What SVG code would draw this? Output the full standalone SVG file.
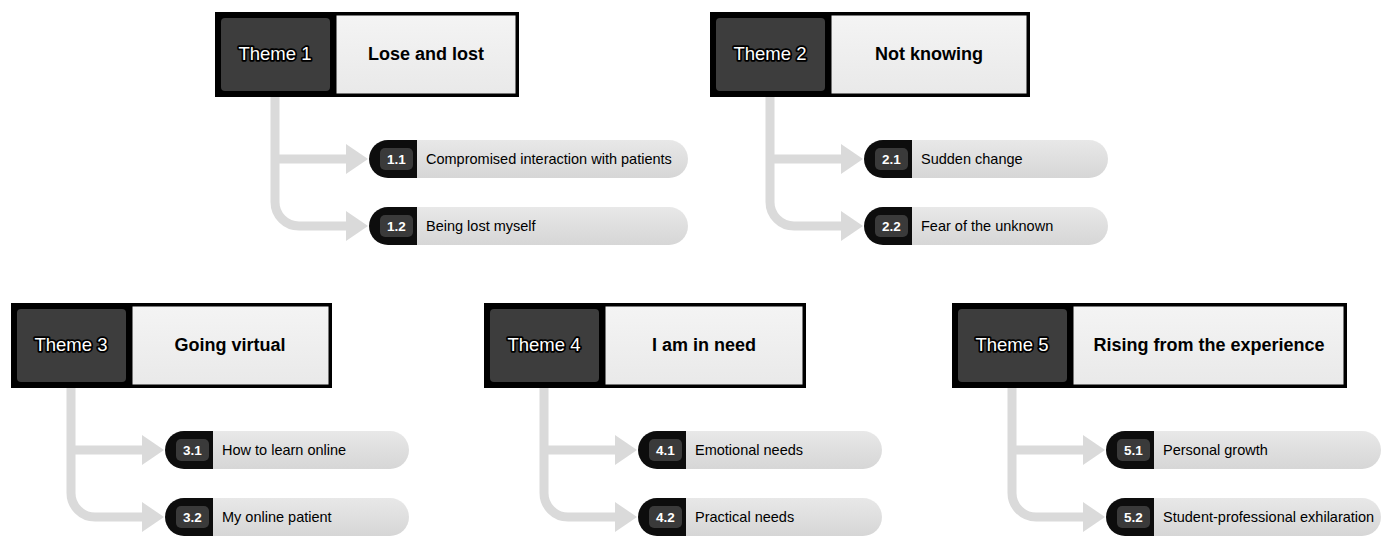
<svg xmlns="http://www.w3.org/2000/svg" width="1382" height="536" viewBox="0 0 1382 536">
<defs>
<linearGradient id="pillg" x1="0" y1="0" x2="0" y2="1">
<stop offset="0" stop-color="#e8e8e8"/>
<stop offset="1" stop-color="#d6d6d6"/>
</linearGradient>
<linearGradient id="titleg" x1="0" y1="0" x2="0" y2="1">
<stop offset="0" stop-color="#f4f4f4"/>
<stop offset="1" stop-color="#e9e9e9"/>
</linearGradient>
</defs>
<style>
.outer{fill:#000;}
.dark{fill:#3d3d3d;}
.white{fill:url(#titleg);stroke:#000;stroke-width:1;}
.tlabel{font-family:"Liberation Sans",Arial,sans-serif;font-size:18.5px;fill:#fff;text-anchor:middle;stroke:#000;stroke-width:3.5;stroke-linejoin:round;paint-order:stroke;}
.title{font-family:"Liberation Sans",Arial,sans-serif;font-size:18px;font-weight:bold;fill:#000;text-anchor:middle;}
.pblack{fill:#0d0d0d;}
.pnum{fill:#3a3a3a;}
.pgrey{fill:url(#pillg);}
.num{font-family:"Liberation Sans",Arial,sans-serif;font-size:13.5px;font-weight:bold;fill:#fff;text-anchor:middle;}
.sub{font-family:"Liberation Sans",Arial,sans-serif;font-size:14.5px;fill:#000;}
.conn{fill:none;stroke:#dadada;stroke-width:9;}
.head{fill:#dadada;}
</style>

<g id="connectors">
<g transform="translate(215,12)">
<path class="conn" d="M60,85 V190 A24,24 0 0 0 84,214 H132 M60,147 H132"/>
<polygon class="head" points="131,132 153,147 131,162"/>
<polygon class="head" points="131,199 153,214 131,229"/>
</g>
<g transform="translate(710,12)">
<path class="conn" d="M60,85 V190 A24,24 0 0 0 84,214 H132 M60,147 H132"/>
<polygon class="head" points="131,132 153,147 131,162"/>
<polygon class="head" points="131,199 153,214 131,229"/>
</g>
<g transform="translate(11,303)">
<path class="conn" d="M60,85 V190 A24,24 0 0 0 84,214 H132 M60,147 H132"/>
<polygon class="head" points="131,132 153,147 131,162"/>
<polygon class="head" points="131,199 153,214 131,229"/>
</g>
<g transform="translate(484,303)">
<path class="conn" d="M60,85 V190 A24,24 0 0 0 84,214 H132 M60,147 H132"/>
<polygon class="head" points="131,132 153,147 131,162"/>
<polygon class="head" points="131,199 153,214 131,229"/>
</g>
<g transform="translate(952,303)">
<path class="conn" d="M60,85 V190 A24,24 0 0 0 84,214 H132 M60,147 H132"/>
<polygon class="head" points="131,132 153,147 131,162"/>
<polygon class="head" points="131,199 153,214 131,229"/>
</g>
</g>

<!-- Theme 1 -->
<g id="theme1" transform="translate(215,12)">
<rect class="outer" x="0" y="0" width="304" height="85"/>
<rect class="dark" x="6" y="6" width="109" height="73" rx="4"/>
<rect class="white" x="121" y="3" width="180" height="79"/>
<text class="tlabel" x="60" y="48">Theme 1</text>
<text class="title" x="211" y="48">Lose and lost</text>
</g>
<g id="sub1-1" transform="translate(215,12)">
<path class="pgrey" d="M202,128 H454 A19,19 0 0 1 454,166 H202 Z"/>
<path class="pblack" d="M202,128 H173 A19,19 0 0 0 173,166 H202 Z"/>
<rect class="pnum" x="165" y="136" width="33" height="22" rx="5"/>
<text class="num" x="181.5" y="152">1.1</text>
<text class="sub" x="211" y="152">Compromised interaction with patients</text>
</g>
<g id="sub1-2" transform="translate(215,12)">
<path class="pgrey" d="M202,195 H454 A19,19 0 0 1 454,233 H202 Z"/>
<path class="pblack" d="M202,195 H173 A19,19 0 0 0 173,233 H202 Z"/>
<rect class="pnum" x="165" y="203" width="33" height="22" rx="5"/>
<text class="num" x="181.5" y="219">1.2</text>
<text class="sub" x="211" y="219">Being lost myself</text>
</g>

<!-- Theme 2 -->
<g id="theme2" transform="translate(710,12)">
<rect class="outer" x="0" y="0" width="320" height="85"/>
<rect class="dark" x="6" y="6" width="109" height="73" rx="4"/>
<rect class="white" x="121" y="3" width="196" height="79"/>
<text class="tlabel" x="60" y="48">Theme 2</text>
<text class="title" x="219" y="48">Not knowing</text>
</g>
<g id="sub2-1" transform="translate(710,12)">
<path class="pgrey" d="M202,128 H379 A19,19 0 0 1 379,166 H202 Z"/>
<path class="pblack" d="M202,128 H173 A19,19 0 0 0 173,166 H202 Z"/>
<rect class="pnum" x="165" y="136" width="33" height="22" rx="5"/>
<text class="num" x="181.5" y="152">2.1</text>
<text class="sub" x="211" y="152">Sudden change</text>
</g>
<g id="sub2-2" transform="translate(710,12)">
<path class="pgrey" d="M202,195 H379 A19,19 0 0 1 379,233 H202 Z"/>
<path class="pblack" d="M202,195 H173 A19,19 0 0 0 173,233 H202 Z"/>
<rect class="pnum" x="165" y="203" width="33" height="22" rx="5"/>
<text class="num" x="181.5" y="219">2.2</text>
<text class="sub" x="211" y="219">Fear of the unknown</text>
</g>

<!-- Theme 3 -->
<g id="theme3" transform="translate(11,303)">
<rect class="outer" x="0" y="0" width="321" height="85"/>
<rect class="dark" x="6" y="6" width="109" height="73" rx="4"/>
<rect class="white" x="121" y="3" width="197" height="79"/>
<text class="tlabel" x="60" y="48">Theme 3</text>
<text class="title" x="219" y="48">Going virtual</text>
</g>
<g id="sub3-1" transform="translate(11,303)">
<path class="pgrey" d="M202,128 H379 A19,19 0 0 1 379,166 H202 Z"/>
<path class="pblack" d="M202,128 H173 A19,19 0 0 0 173,166 H202 Z"/>
<rect class="pnum" x="165" y="136" width="33" height="22" rx="5"/>
<text class="num" x="181.5" y="152">3.1</text>
<text class="sub" x="211" y="152">How to learn online</text>
</g>
<g id="sub3-2" transform="translate(11,303)">
<path class="pgrey" d="M202,195 H379 A19,19 0 0 1 379,233 H202 Z"/>
<path class="pblack" d="M202,195 H173 A19,19 0 0 0 173,233 H202 Z"/>
<rect class="pnum" x="165" y="203" width="33" height="22" rx="5"/>
<text class="num" x="181.5" y="219">3.2</text>
<text class="sub" x="211" y="219">My online patient</text>
</g>

<!-- Theme 4 -->
<g id="theme4" transform="translate(484,303)">
<rect class="outer" x="0" y="0" width="322" height="85"/>
<rect class="dark" x="6" y="6" width="109" height="73" rx="4"/>
<rect class="white" x="121" y="3" width="198" height="79"/>
<text class="tlabel" x="60" y="48">Theme 4</text>
<text class="title" x="220" y="48">I am in need</text>
</g>
<g id="sub4-1" transform="translate(484,303)">
<path class="pgrey" d="M202,128 H379 A19,19 0 0 1 379,166 H202 Z"/>
<path class="pblack" d="M202,128 H173 A19,19 0 0 0 173,166 H202 Z"/>
<rect class="pnum" x="165" y="136" width="33" height="22" rx="5"/>
<text class="num" x="181.5" y="152">4.1</text>
<text class="sub" x="211" y="152">Emotional needs</text>
</g>
<g id="sub4-2" transform="translate(484,303)">
<path class="pgrey" d="M202,195 H379 A19,19 0 0 1 379,233 H202 Z"/>
<path class="pblack" d="M202,195 H173 A19,19 0 0 0 173,233 H202 Z"/>
<rect class="pnum" x="165" y="203" width="33" height="22" rx="5"/>
<text class="num" x="181.5" y="219">4.2</text>
<text class="sub" x="211" y="219">Practical needs</text>
</g>

<!-- Theme 5 -->
<g id="theme5" transform="translate(952,303)">
<rect class="outer" x="0" y="0" width="395" height="85"/>
<rect class="dark" x="6" y="6" width="109" height="73" rx="4"/>
<rect class="white" x="121" y="3" width="271" height="79"/>
<text class="tlabel" x="60" y="48">Theme 5</text>
<text class="title" x="257" y="48">Rising from the experience</text>
</g>
<g id="sub5-1" transform="translate(952,303)">
<path class="pgrey" d="M202,128 H410 A19,19 0 0 1 410,166 H202 Z"/>
<path class="pblack" d="M202,128 H173 A19,19 0 0 0 173,166 H202 Z"/>
<rect class="pnum" x="165" y="136" width="33" height="22" rx="5"/>
<text class="num" x="181.5" y="152">5.1</text>
<text class="sub" x="211" y="152">Personal growth</text>
</g>
<g id="sub5-2" transform="translate(952,303)">
<path class="pgrey" d="M202,195 H410 A19,19 0 0 1 410,233 H202 Z"/>
<path class="pblack" d="M202,195 H173 A19,19 0 0 0 173,233 H202 Z"/>
<rect class="pnum" x="165" y="203" width="33" height="22" rx="5"/>
<text class="num" x="181.5" y="219">5.2</text>
<text class="sub" x="211" y="219">Student-professional exhilaration</text>
</g>
</svg>
